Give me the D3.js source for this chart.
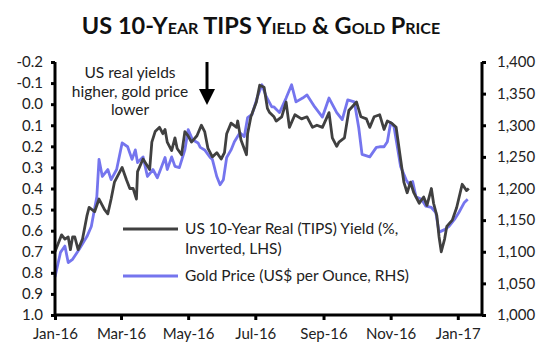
<!DOCTYPE html>
<html><head><meta charset="utf-8">
<script src="https://cdn.jsdelivr.net/npm/d3@7"></script>
<style>body{margin:0;background:#fff}svg{display:block}text{font-family:Lato,"Open Sans",sans-serif;fill:#222}</style>
</head><body><svg id="c" width="550" height="361"></svg>
<script>
const title = "US 10-Year TIPS Yield & Gold Price";
const yieldDates = ["2016-01-01","2016-01-04","2016-01-07","2016-01-10","2016-01-13","2016-01-15","2016-01-17","2016-01-19","2016-01-22","2016-01-26","2016-01-30","2016-02-01","2016-02-06","2016-02-10","2016-02-15","2016-02-18","2016-02-21","2016-02-24","2016-02-29","2016-03-02","2016-03-06","2016-03-09","2016-03-12","2016-03-15","2016-03-16","2016-03-21","2016-03-27","2016-03-29","2016-04-01","2016-04-05","2016-04-08","2016-04-10","2016-04-12","2016-04-16","2016-04-19","2016-04-21","2016-04-25","2016-04-28","2016-05-01","2016-05-04","2016-05-09","2016-05-13","2016-05-16","2016-05-19","2016-05-23","2016-05-27","2016-05-31","2016-06-03","2016-06-05","2016-06-09","2016-06-14","2016-06-15","2016-06-18","2016-06-23","2016-06-24","2016-06-27","2016-07-02","2016-07-05","2016-07-09","2016-07-12","2016-07-14","2016-07-18","2016-07-20","2016-07-25","2016-07-29","2016-08-01","2016-08-06","2016-08-12","2016-08-17","2016-08-22","2016-08-26","2016-08-31","2016-09-06","2016-09-09","2016-09-13","2016-09-15","2016-09-20","2016-09-24","2016-10-01","2016-10-05","2016-10-10","2016-10-13","2016-10-17","2016-10-22","2016-10-26","2016-10-29","2016-11-02","2016-11-06","2016-11-10","2016-11-13","2016-11-16","2016-11-19","2016-11-22","2016-11-27","2016-12-01","2016-12-04","2016-12-08","2016-12-10","2016-12-13","2016-12-15","2016-12-17","2016-12-20","2016-12-22","2016-12-27","2016-12-31","2017-01-05","2017-01-09","2017-01-11"];
const yieldValues = [0.70,0.66,0.62,0.64,0.63,0.69,0.63,0.63,0.69,0.64,0.53,0.49,0.51,0.45,0.50,0.52,0.45,0.37,0.32,0.30,0.36,0.40,0.40,0.45,0.32,0.26,0.31,0.18,0.13,0.11,0.14,0.12,0.18,0.22,0.16,0.21,0.24,0.13,0.15,0.18,0.15,0.10,0.13,0.21,0.25,0.23,0.26,0.23,0.14,0.09,0.11,0.08,0.17,0.24,0.14,0.06,-0.01,-0.09,-0.08,0.02,0.04,0.06,0.08,0.06,-0.01,0.11,0.05,0.07,0.06,0.11,0.10,0.11,0.04,0.16,0.20,0.18,0.16,0.03,-0.01,0.06,0.07,0.11,0.06,0.05,0.12,0.08,0.09,0.11,0.26,0.37,0.42,0.37,0.42,0.47,0.44,0.48,0.40,0.47,0.53,0.63,0.70,0.64,0.58,0.55,0.49,0.38,0.41,0.40];
const goldDates = ["2016-01-01","2016-01-06","2016-01-10","2016-01-13","2016-01-17","2016-01-23","2016-01-30","2016-02-03","2016-02-08","2016-02-10","2016-02-13","2016-02-18","2016-02-21","2016-02-26","2016-03-02","2016-03-07","2016-03-11","2016-03-14","2016-03-16","2016-03-21","2016-03-25","2016-03-30","2016-04-03","2016-04-07","2016-04-10","2016-04-12","2016-04-16","2016-04-19","2016-04-23","2016-04-28","2016-05-01","2016-05-05","2016-05-10","2016-05-12","2016-05-16","2016-05-21","2016-05-23","2016-05-27","2016-05-30","2016-06-02","2016-06-05","2016-06-09","2016-06-12","2016-06-17","2016-06-21","2016-06-24","2016-06-28","2016-07-03","2016-07-07","2016-07-11","2016-07-16","2016-07-18","2016-07-23","2016-07-29","2016-08-03","2016-08-07","2016-08-13","2016-08-17","2016-08-24","2016-08-31","2016-09-06","2016-09-13","2016-09-18","2016-09-23","2016-09-29","2016-10-03","2016-10-06","2016-10-13","2016-10-19","2016-10-22","2016-10-26","2016-10-29","2016-11-01","2016-11-04","2016-11-06","2016-11-10","2016-11-15","2016-11-18","2016-11-21","2016-11-24","2016-11-29","2016-12-03","2016-12-08","2016-12-12","2016-12-15","2016-12-20","2016-12-24","2016-12-29","2017-01-02","2017-01-07","2017-01-10"];
const goldValues = [1060,1099,1109,1083,1088,1104,1124,1140,1187,1246,1219,1230,1214,1230,1272,1266,1246,1261,1241,1250,1219,1230,1217,1235,1249,1230,1250,1235,1233,1261,1293,1277,1272,1265,1261,1249,1246,1219,1206,1214,1249,1261,1274,1288,1282,1312,1317,1345,1364,1345,1329,1329,1320,1343,1364,1337,1343,1348,1329,1313,1343,1320,1309,1340,1337,1296,1254,1250,1265,1266,1266,1274,1304,1298,1277,1235,1214,1206,1211,1187,1183,1172,1170,1162,1131,1135,1140,1151,1162,1178,1183];
const leftTicks = [-0.2,-0.1,0.0,0.1,0.2,0.3,0.4,0.5,0.6,0.7,0.8,0.9,1.0];
const rightTicks = [1000,1050,1100,1150,1200,1250,1300,1350,1400];
const xTickDates = ["2016-01-01","2016-03-01","2016-05-01","2016-07-01","2016-09-01","2016-11-01","2017-01-01"];
const seriesNames = ["US 10-Year Real (TIPS) Yield (%,", "Inverted, LHS)", "Gold Price (US$ per Ounce, RHS)"];
const annotation = ["US real yields","higher, gold price","lower"];

const parse = d3.timeParse("%Y-%m-%d");
const svg = d3.select("#c");
const L = 55, R = 482, T = 62, B = 315;
const x = d3.scaleTime().domain([parse("2016-01-01"), parse("2017-01-23")]).range([L, R]);
const yL = d3.scaleLinear().domain([-0.2, 1.0]).range([T, B]);
const yR = d3.scaleLinear().domain([1000, 1400]).range([B, T]);

svg.append("text").attr("x", 261).attr("y", 34).attr("text-anchor", "middle")
  .style("font-size", "23.5px").style("font-weight", "bold").style("font-variant", "small-caps").style("fill","#111")
  .text(title);

const yData = yieldDates.map((d,i)=>({d:parse(d), v:yieldValues[i]}));
const gData = goldDates.map((d,i)=>({d:parse(d), v:goldValues[i]}));

svg.append("path").datum(gData).attr("fill","none").attr("stroke","#7575ee").attr("stroke-width",2.8).attr("stroke-linejoin","round")
  .attr("d", d3.line().x(d=>x(d.d)).y(d=>yR(d.v)));
svg.append("path").datum(yData).attr("fill","none").attr("stroke","#404040").attr("stroke-width",2.8).attr("stroke-linejoin","round")
  .attr("d", d3.line().x(d=>x(d.d)).y(d=>yL(d.v)));

// axes
const fmtL = d3.format(".1f");
const gl = svg.append("g").attr("transform",`translate(${L},0)`)
  .call(d3.axisLeft(yL).tickValues(leftTicks).tickFormat(v=>fmtL(v).replace("−","-").replace("-0.0","0.0")).tickSize(4).tickPadding(8));
const gr = svg.append("g").attr("transform",`translate(${R},0)`)
  .call(d3.axisRight(yR).tickValues(rightTicks).tickFormat(d3.format(",")).tickSize(4).tickPadding(11));
const gb = svg.append("g").attr("transform",`translate(0,${B})`)
  .call(d3.axisBottom(x).tickValues(xTickDates.map(parse)).tickFormat(d3.timeFormat("%b-%y")).tickSize(5).tickPadding(8));
[gl,gr,gb].forEach(g=>{
  g.select(".domain").attr("stroke","#000").attr("stroke-width",3);
  g.selectAll(".tick line").attr("stroke","#000").attr("stroke-width",3);
  g.selectAll(".tick text").style("font-size","15px").style("font-family","Lato, sans-serif").attr("fill","#222");
});
gl.select(".domain").attr("d",`M0,${T}V${B}`);
gr.select(".domain").attr("d",`M0,${T}V${B}`);
gb.select(".domain").attr("d",`M${L},0H${R}`);

// legend
const lg = svg.append("g");
lg.append("line").attr("x1",123).attr("x2",178).attr("y1",229).attr("y2",229).attr("stroke","#404040").attr("stroke-width",2.8);
lg.append("line").attr("x1",123).attr("x2",178).attr("y1",276).attr("y2",276).attr("stroke","#7575ee").attr("stroke-width",2.8);
lg.append("text").attr("x",185).attr("y",234).style("font-size","15.5px").text(seriesNames[0]);
lg.append("text").attr("x",185).attr("y",254).style("font-size","15.5px").text(seriesNames[1]);
lg.append("text").attr("x",185).attr("y",281).style("font-size","15.5px").text(seriesNames[2]);

// annotation
annotation.forEach((t,i)=>{
  svg.append("text").attr("x",130).attr("y",78+i*18.5).attr("text-anchor","middle").style("font-size","15.5px").text(t);
});
svg.append("line").attr("x1",207).attr("x2",207).attr("y1",62).attr("y2",92).attr("stroke","#000").attr("stroke-width",3);
svg.append("path").attr("d","M199,89L215,89L207,105Z").attr("fill","#000");
</script></body></html>
